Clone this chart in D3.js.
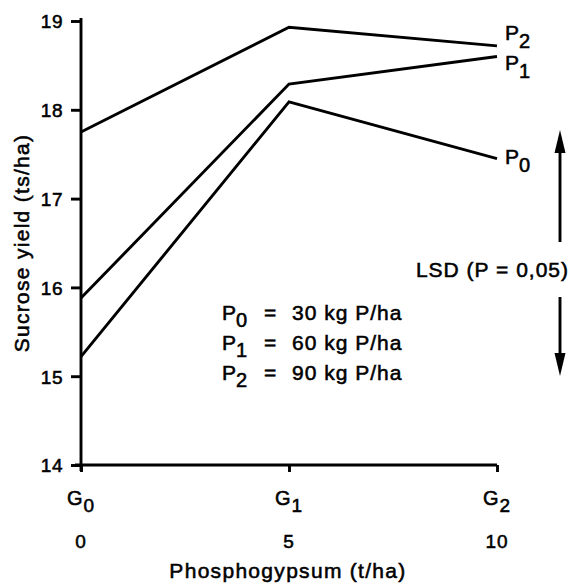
<!DOCTYPE html>
<html>
<head>
<meta charset="utf-8">
<script src="https://cdn.jsdelivr.net/npm/d3@7"></script>
<style>
  html, body { margin: 0; padding: 0; background: #fff; }
  svg text { font-family: "Liberation Sans", Arial, Helvetica, sans-serif; fill: #000; stroke: #000; stroke-width: 0.55px; }
</style>
</head>
<body>
<svg id="chart" width="573" height="584"></svg>
<script>
// ---- data ----
const doses = [0, 5, 10];                 // phosphogypsum t/ha
const doseLabels = ["0", "5", "10"];
const gSubs = ["0", "1", "2"];            // G0, G1, G2
const yTicks = [14, 15, 16, 17, 18, 19];
const seriesNames = ["0", "1", "2"];      // P0, P1, P2
const P0 = [15.22, 18.09, 17.45];
const P1 = [15.88, 18.29, 18.60];
const P2 = [17.75, 18.93, 18.72];
const legendRates = ["30 kg P/ha", "60 kg P/ha", "90 kg P/ha"];
const lsdLabel = "LSD (P = 0,05)";
const xTitle = "Phosphogypsum (t/ha)";
const yTitle = "Sucrose yield (ts/ha)";

// ---- layout ----
const svg = d3.select("#chart");
const x = d3.scaleLinear().domain([0, 10]).range([81, 497]);
const y = d3.scaleLinear().domain([14, 19]).range([465, 21]);
const SW = 2.9;

// y axis
const yAxis = svg.append("g").attr("transform", "translate(81,0)")
  .call(d3.axisLeft(y).tickValues(yTicks).tickSize(10).tickSizeOuter(0).tickPadding(8).tickFormat(d3.format("d")));
yAxis.select(".domain").attr("stroke", "#000").attr("stroke-width", SW)
  .attr("d", `M0,${y(14) + 6}V${y(19) - 3}`);
yAxis.selectAll(".tick line").attr("stroke", "#000").attr("stroke-width", SW);
yAxis.selectAll(".tick text").attr("font-size", 19)
  .attr("dy", "0.36em").attr("x", -18).style("letter-spacing", "0.5px");

// x axis
const xAxis = svg.append("g").attr("transform", `translate(0,${y(14)})`)
  .call(d3.axisBottom(x).tickValues(doses).tickSize(7).tickSizeOuter(0).tickFormat(""));
xAxis.select(".domain").attr("stroke", "#000").attr("stroke-width", SW)
  .attr("d", `M${x(0) - 6},0H${x(10)}`);
xAxis.selectAll(".tick line").attr("stroke", "#000").attr("stroke-width", SW);

// G labels
doses.forEach((d, i) => {
  const t = svg.append("text").attr("x", x(d)).attr("y", 505)
    .attr("text-anchor", "middle").attr("font-size", 20).style("letter-spacing", "1px");
  t.append("tspan").text("G");
  t.append("tspan").attr("dy", 7).attr("font-size", 19).text(gSubs[i]);
  svg.append("text").attr("x", x(d)).attr("y", 548).attr("text-anchor", "middle")
    .attr("font-size", 19).style("letter-spacing", "1px").text(doseLabels[i]);
});

// axis titles
svg.append("text").attr("x", 288).attr("y", 578).attr("text-anchor", "middle")
  .attr("font-size", 21).style("letter-spacing", "1.3px").text(xTitle);
svg.append("text").attr("transform", "translate(29,243) rotate(-90)").attr("text-anchor", "middle")
  .attr("font-size", 21).style("letter-spacing", "1.3px").text(yTitle);

// lines
const line = d3.line().x((d, i) => x(doses[i])).y(d => y(d));
[P0, P1, P2].forEach(s => {
  svg.append("path").datum(s).attr("d", line).attr("fill", "none")
    .attr("stroke", "#000").attr("stroke-width", SW).attr("stroke-linejoin", "miter");
});

// end labels
const endLabelY = [164, 70, 40];
[P0, P1, P2].forEach((s, i) => {
  const t = svg.append("text").attr("x", 505).attr("y", endLabelY[i]).attr("font-size", 21);
  t.append("tspan").text("P");
  t.append("tspan").attr("dy", 8).attr("font-size", 20).text(seriesNames[i]);
});

// legend
legendRates.forEach((r, i) => {
  const by = 320 + i * 30;
  const t = svg.append("text").attr("x", 222).attr("y", by).attr("font-size", 21);
  t.append("tspan").text("P");
  t.append("tspan").attr("dy", 7).attr("font-size", 20).text(seriesNames[i]);
  svg.append("text").attr("x", 264).attr("y", by).attr("font-size", 21).text("=");
  svg.append("text").attr("x", 292).attr("y", by).attr("font-size", 21)
    .style("letter-spacing", "1px").text(r);
});

// LSD
svg.append("text").attr("x", 569).attr("y", 277).attr("text-anchor", "end")
  .attr("font-size", 21).style("letter-spacing", "1px").text(lsdLabel);
const ax = 560;
svg.append("line").attr("x1", ax).attr("x2", ax).attr("y1", 148).attr("y2", 242)
  .attr("stroke", "#000").attr("stroke-width", SW);
svg.append("path").attr("d", `M${ax},130L${ax - 5.5},153L${ax + 5.5},153Z`).attr("fill", "#000");
svg.append("line").attr("x1", ax).attr("x2", ax).attr("y1", 297).attr("y2", 358)
  .attr("stroke", "#000").attr("stroke-width", SW);
svg.append("path").attr("d", `M${ax},376L${ax - 5.5},353L${ax + 5.5},353Z`).attr("fill", "#000");
</script>
</body>
</html>
